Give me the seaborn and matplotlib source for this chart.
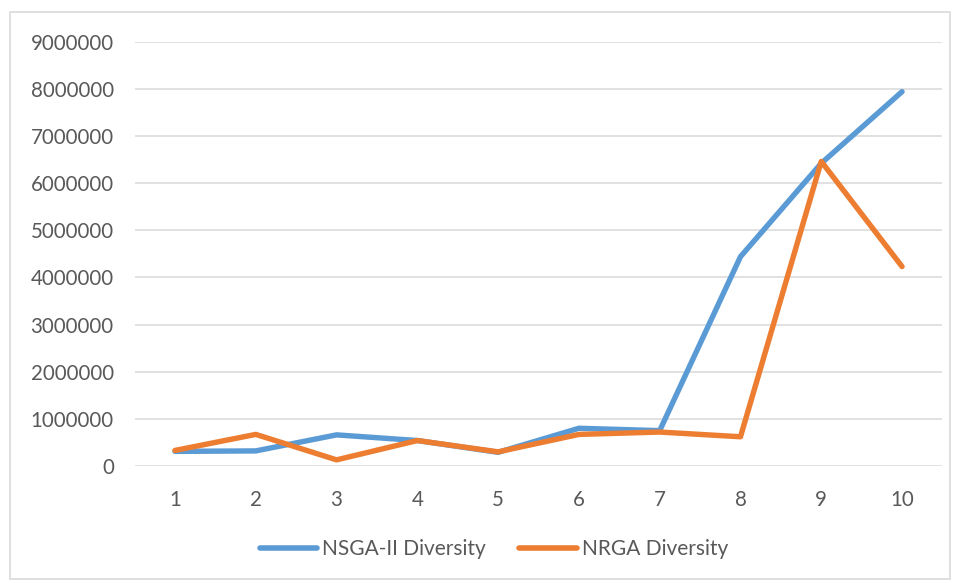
import matplotlib
matplotlib.use("Agg")
import matplotlib.pyplot as plt
import seaborn as sns
import pandas as pd
from matplotlib.patches import Rectangle

runs = [1, 2, 3, 4, 5, 6, 7, 8, 9, 10]
nsga2_diversity = [310000, 320000, 660000, 540000, 290000, 800000, 750000, 4440000, 6420000, 7940000]
nrga_diversity = [330000, 670000, 130000, 540000, 300000, 670000, 720000, 620000, 6460000, 4230000]
y_ticks = [0, 1000000, 2000000, 3000000, 4000000, 5000000, 6000000, 7000000, 8000000, 9000000]

df = pd.DataFrame({
    "run": runs * 2,
    "value": nsga2_diversity + nrga_diversity,
    "series": ["NSGA-II Diversity"] * len(runs) + ["NRGA Diversity"] * len(runs),
})

sns.set_theme(style="white")
plt.rcParams["font.family"] = ["Lato", "DejaVu Sans"]

fig = plt.figure(figsize=(9.6, 5.83), dpi=100)
ax = fig.add_axes([0.1402, 0.2007, 0.8415, 0.7278])

# light frame around the whole chart
fig.patches.append(Rectangle((10 / 960, 1 - 579 / 583), 940 / 960, 567 / 583,
                             transform=fig.transFigure, fill=False,
                             edgecolor="#D9D9D9", linewidth=1.2))

palette = {"NSGA-II Diversity": "#5B9BD5", "NRGA Diversity": "#ED7D31"}
sns.lineplot(data=df, x="run", y="value", hue="series", palette=palette,
             linewidth=3.9, ax=ax, legend=True, solid_capstyle="round")

ax.set_xlim(0.5, 10.5)
ax.set_ylim(0, 9000000)
ax.set_xticks(runs)
ax.set_xticklabels([str(r) for r in runs])
ax.set_yticks(y_ticks)
ax.set_yticklabels([str(v) for v in y_ticks])
ax.set_xlabel("")
ax.set_ylabel("")
ax.grid(axis="y", color="#D9D9D9", linewidth=1.1)
ax.set_axisbelow(True)
for s in ax.spines.values():
    s.set_visible(False)
ax.tick_params(axis="both", length=0, labelsize=14.8, colors="#595959")
ax.tick_params(axis="x", pad=17)
ax.tick_params(axis="y", pad=15)

handles, labels = ax.get_legend_handles_labels()
leg = fig.legend(handles, labels, loc="center", bbox_to_anchor=(494 / 960, 1 - 549 / 583),
                 ncol=2, frameon=False, fontsize=15, handlelength=2.75,
                 handletextpad=0.25, columnspacing=1.6)
ax.get_legend().remove()
for t in leg.get_texts():
    t.set_color("#595959")
for h in leg.get_lines():
    h.set_linewidth(4)
    h.set_solid_capstyle("round")

fig.savefig("out.png", dpi=100)
